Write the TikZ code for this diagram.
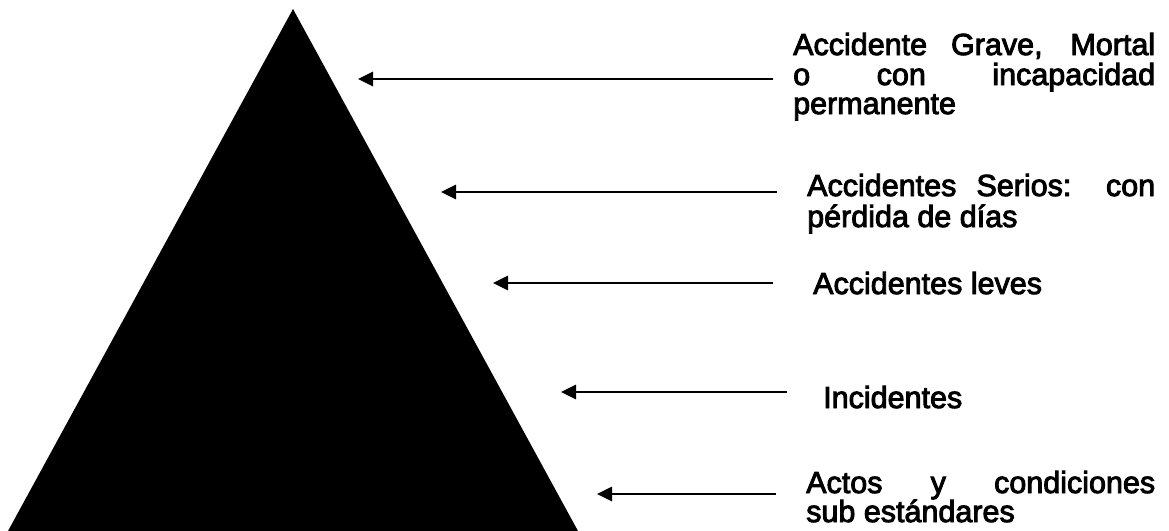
\documentclass[tikz,border=0pt]{standalone}
\usepackage{fontspec}
\setmainfont{Liberation Sans}
\newfontfamily\lblfont[FakeBold=3]{Liberation Sans}
\usetikzlibrary{arrows.meta}
\tikzset{
  lbl/.style={anchor=base west, inner sep=0pt, font=\lblfont\fontsize{30.5}{32}\selectfont},
  arr/.style={line width=2.8pt, -{Triangle[length=15pt,width=14pt]}},
}
\begin{document}
\begin{tikzpicture}[x=1pt,y=-1pt]
\useasboundingbox (0,0) rectangle (1169,530);
% pyramid
\fill[black] (293,9) -- (578,531) -- (8,531) -- cycle;
% labels
\node[lbl] (l1a) at (793,55) {\makebox[362pt][s]{Accidente Grave, Mortal}};
\node[lbl] (l1b) at (793,85) {\makebox[362pt][s]{o con incapacidad}};
\node[lbl] (l1c) at (793,114) {permanente};
\node[lbl] (l2a) at (807,196) {\makebox[348pt][s]{Accidentes Serios: con}};
\node[lbl] (l2b) at (807,227) {pérdida de días};
\node[lbl] (l3) at (813,294) {Accidentes leves};
\node[lbl] (l4) at (823,408) {Incidentes};
\node[lbl] (l5a) at (806,493) {\makebox[349pt][s]{Actos y condiciones}};
\node[lbl] (l5b) at (806,522) {sub estándares};
% arrow ends
\coordinate (t1) at (773,79);  \coordinate (h1) at (358,79);
\coordinate (t2) at (777,192); \coordinate (h2) at (441,192);
\coordinate (t3) at (773,283); \coordinate (h3) at (493,283);
\coordinate (t4) at (787,392); \coordinate (h4) at (561,392);
\coordinate (t5) at (776,494); \coordinate (h5) at (597,494);
\draw[arr] (t1) -- (h1);
\draw[arr] (t2) -- (h2);
\draw[arr] (t3) -- (h3);
\draw[arr] (t4) -- (h4);
\draw[arr] (t5) -- (h5);
\end{tikzpicture}
\end{document}
